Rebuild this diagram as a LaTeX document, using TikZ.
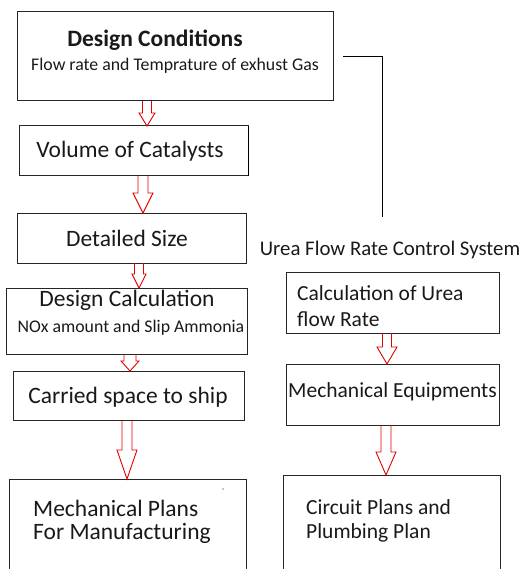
\documentclass[tikz,border=0pt]{standalone}
\usepackage{fontspec}
\setmainfont{Carlito}
\usetikzlibrary{calc}
\tikzset{
  box/.style={draw=black!85, line width=1pt, rectangle, inner sep=0pt, outer sep=0pt},
  harr/.style={draw=red!90!black, line width=0.9pt},
  big/.style={font=\fontsize{23.5}{26}\selectfont, inner sep=0pt, text=black!90},
  mid/.style={font=\fontsize{21.5}{24}\selectfont, inner sep=0pt, text=black!90},
  small/.style={font=\fontsize{17.8}{20}\selectfont, inner sep=0pt, text=black!90},
  line/.style={draw=black, line width=1pt}
}
\newcommand\harrow[6]{%
  \draw[harr] let \p1=(#1.south), \p2=(#2.north) in
  (#3pt-#4pt,\y1) -- (#3pt-#4pt,\y2+#6pt) -- (#3pt-#5pt,\y2+#6pt) -- (#3pt,\y2)
  -- (#3pt+#5pt,\y2+#6pt) -- (#3pt+#4pt,\y2+#6pt) -- (#3pt+#4pt,\y1);}
\begin{document}
\begin{tikzpicture}[x=1pt,y=-1pt]
\useasboundingbox (0,0) rectangle (527,569);
\clip (0,0) rectangle (527,569);
% boxes
\node[box, minimum width=316pt, minimum height=89pt] (b1) at (175,56.5) {};
\node[box, minimum width=229pt, minimum height=50pt] (b2) at (133.5,151) {};
\node[box, minimum width=229pt, minimum height=50pt] (b3) at (131.5,238) {};
\node[box, minimum width=241pt, minimum height=66pt] (b4) at (126.5,321) {};
\node[box, minimum width=231pt, minimum height=49pt] (b5) at (128.5,395.5) {};
\node[box, minimum width=237pt, minimum height=121pt] (b6) at (127.5,539.5) {};
\node[box, minimum width=213pt, minimum height=61pt] (b7) at (392.5,302.5) {};
\node[box, minimum width=213pt, minimum height=61pt] (b8) at (392.5,394.5) {};
\node[box, minimum width=217pt, minimum height=125pt] (b9) at (391.5,537.5) {};
\draw[line width=1pt] (b2.north east) -- (b2.south east);
% texts
\node[big, font=\fontsize{23.5}{26}\selectfont\bfseries] (t1) at (155,40) {Design Conditions};
\node[small] (t1b) at (175,66) {Flow rate and Temprature of exhust Gas};
\node[big] (t2) at (130,151) {Volume of Catalysts};
\node[big] (t3) at (127,238) {Detailed Size};
\node[big] (t4) at (127,300) {Design Calculation};
\node[small] (t4b) at (131,328) {NOx amount and Slip Ammonia};
\node[big] (t5) at (128,397) {Carried space to ship};
\node[big, anchor=west] (t6) at (33,508) {Mechanical Plans};
\node[big, anchor=west] (t6b) at (33,533) {For Manufacturing};
\node[mid, font=\fontsize{20.8}{23}\selectfont] (lbl) at (390,250) {Urea Flow Rate Control System};
\node[mid, anchor=west] (t7) at (297,293) {Calculation of Urea};
\node[mid, anchor=west] (t7b) at (297,319) {flow Rate};
\node[mid] (t8) at (392.5,392) {Mechanical Equipments};
\node[mid, anchor=west] (t9) at (306,507) {Circuit Plans and};
\node[mid, anchor=west] (t9b) at (306,533) {Plumbing Plan};
\fill (223,489) circle (0.7pt);
% connector
\coordinate (c1) at (382,217);
\draw[line] ([xshift=10pt]b1.east) -| (c1);
% hollow arrows
\harrow{b1}{b2}{147}{4.5}{8}{13}
\harrow{b2}{b3}{143}{5}{10}{20}
\harrow{b3}{b4}{139}{4.5}{7}{14}
\harrow{b4}{b5}{130}{6}{9}{10}
\harrow{b5}{b6}{127}{5}{10}{29}
\harrow{b7}{b8}{387}{4.5}{10}{17}
\harrow{b8}{b9}{386}{5}{10}{23}
\end{tikzpicture}
\end{document}
